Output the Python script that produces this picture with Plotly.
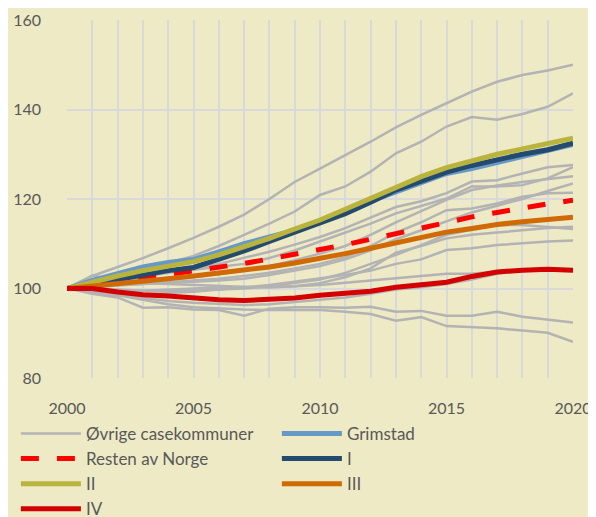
import plotly.graph_objects as go

years = list(range(2000, 2021))

# Øvrige casekommuner (grey lines)
grey_series = [
    [100,102.8,104.8,106.8,109,111.3,113.8,116.5,120,123.8,126.8,129.8,132.8,136,138.8,141.4,144,146.2,147.7,148.7,150],
    [100,101.8,103,104.3,105.7,107.3,109.5,112,114.5,117.2,120.9,122.8,126.1,130.2,132.8,136.2,138.3,137.7,139,140.6,143.6],
    [100,100.8,101.7,102.6,103.5,104.4,105.5,106.8,108.2,109.8,111.5,113.5,115.8,118.2,119.5,121.3,123.9,124.2,125.7,127.1,127.6],
    [100,101.2,102.3,103.2,103.8,104.2,104.8,105.5,106.8,108.5,110.5,112.5,114.5,116.8,118.5,120.1,122.8,122.8,123.1,124.6,127.1],
    [100,100.5,101,101.5,102,102.5,103.2,104,105,106.3,107.8,109.5,112,114.8,117.3,119.8,122,123,123.8,124.5,125.1],
    [100,100.3,100.6,101,101.4,101.8,102.2,102.8,103.5,104.5,105.5,107,109.5,112.5,114.8,117.5,117.9,119,120.5,121.3,121.4],
    [100,100.5,100.8,101,101.2,101.5,101.8,102.2,103,104,105,106.5,108.5,111,113,115,117,118.5,120,121.8,123.5],
    [100,102.9,101.8,101.2,101,100.8,100.5,100.3,100.2,100.5,101.2,102.5,104.5,108,109.5,111.2,112,112.5,113,113.5,113.8],
    [100,100,99.8,99.5,99.5,99.5,99.8,100,100.5,101.2,102,103.5,105.5,107.5,109.7,112,113.1,114.2,114.2,113.8,113.3],
    [100,99.5,99,98.7,99,99.3,99.8,100.2,100.8,101.5,102.2,103,104,105.5,106.5,108.6,109,109.7,110.1,110.5,110.7],
    [100,99.6,99.3,99.5,99.8,100,100.2,100.3,100.3,100.5,100.8,101.3,101.8,102.3,102.8,103.3,103.3,103.8,104.1,104.2,104],
    [100,99.3,98.5,97.8,97.2,96.8,96.5,96.3,96.5,97,97.5,98,98.8,99.8,100.3,101,102,103.3,104,104.3,104.2],
    [100,98.8,98,95.7,95.8,95.3,95.2,93.9,95.5,95.8,95.8,95.7,95.9,94.8,95,93.9,93.9,94.8,93.7,93.1,92.4],
    [100,99.2,98.5,97.5,96.5,95.8,95.5,95.3,95.2,95.2,95.2,94.8,94.3,92.8,93.6,91.6,91.4,91.1,90.6,90.1,88.1],
]

grimstad = [100,101.8,103.3,104.8,105.8,106.5,108.2,110,111.5,113,115,117,119.5,121.5,123.5,125.7,126.8,128.2,129.5,130.8,132.2]
resten = [100,100.7,101.5,102.3,103.1,103.9,104.8,105.6,106.6,107.6,108.6,109.8,111,112.3,113.6,114.8,116,117,118,118.9,119.7]
s_I = [100,101,102,103,104,104.7,106.5,108.4,110.5,112.5,114.5,116.7,119.3,122,124,126,127.5,128.8,130,131,132.5]
s_II = [100,101.5,102.8,104,105,106,107.5,109.3,111.2,113.3,115.3,117.7,120.2,122.7,125,127,128.5,130,131.2,132.4,133.6]
s_III = [100,100.5,101,101.6,102.2,102.8,103.4,104,104.8,105.7,106.7,107.8,109,110.2,111.3,112.6,113.4,114.3,114.9,115.5,115.9]
s_IV = [100,100,99.2,98.6,98.3,97.8,97.5,97.3,97.5,97.9,98.5,99,99.4,100.3,100.9,101.4,102.7,103.7,104.1,104.3,104.1]

GREY = "#B3B3B3"
BG = "#EDEAC5"
GRID = "#D9D9D9"
TXT = "#595959"
FONT = "Lato"

fig = go.Figure()
for i, s in enumerate(grey_series):
    fig.add_trace(go.Scatter(x=years, y=s, mode="lines", name="Øvrige casekommuner",
                             legendgroup="grey", showlegend=(i == 0),
                             line=dict(color=GREY, width=2.5)))

fig.add_trace(go.Scatter(x=years, y=grimstad, mode="lines", name="Grimstad",
                         line=dict(color="#6699C8", width=5)))
fig.add_trace(go.Scatter(x=years, y=resten, mode="lines", name="Resten av Norge",
                         line=dict(color="#FF0000", width=5, dash="18px,18px")))
fig.add_trace(go.Scatter(x=years, y=s_I, mode="lines", name="I",
                         line=dict(color="#244A6E", width=5)))
fig.add_trace(go.Scatter(x=years, y=s_II, mode="lines", name="II",
                         line=dict(color="#B8B43E", width=5)))
fig.add_trace(go.Scatter(x=years, y=s_III, mode="lines", name="III",
                         line=dict(color="#D06A05", width=5)))
fig.add_trace(go.Scatter(x=years, y=s_IV, mode="lines", name="IV",
                         line=dict(color="#D40000", width=5)))

fig.update_layout(
    width=596, height=517,
    paper_bgcolor=BG, plot_bgcolor=BG,
    margin=dict(l=59, r=31, t=12, b=147, autoexpand=False),
    font=dict(family=FONT, size=17, color=TXT),
    xaxis=dict(range=[2000, 2020], tickvals=[2000, 2005, 2010, 2015, 2020],
               showgrid=True, gridcolor=GRID, gridwidth=1.5,
               minor=dict(dtick=1, tick0=2000, showgrid=True, gridcolor=GRID, gridwidth=1.5),
               zeroline=False, showline=False, ticks="", ticklabelstandoff=19,
               tickfont=dict(size=16, color=TXT, family=FONT)),
    yaxis=dict(range=[80, 160], dtick=20, showgrid=True, gridcolor=GRID, gridwidth=1.5,
               zeroline=False, showline=False, ticks="", ticklabelstandoff=25,
               tickfont=dict(size=16, color=TXT, family=FONT)),
    legend=dict(orientation="h", x=-0.101, xanchor="left", y=-0.106, yanchor="top",
                entrywidth=186, entrywidthmode="pixels", itemwidth=60,
                bgcolor="rgba(0,0,0,0)", tracegroupgap=0,
                font=dict(size=17, color=TXT, family=FONT)),
    showlegend=True,
)

fig.write_html("out.html")
